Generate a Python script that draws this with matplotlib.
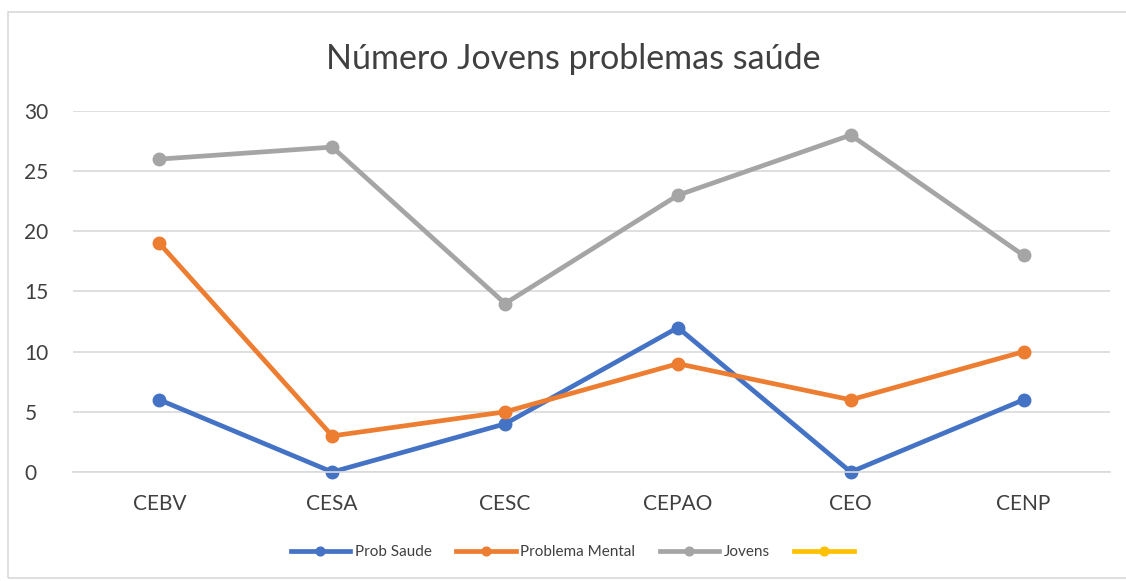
import matplotlib.pyplot as plt
from matplotlib.patches import Rectangle

categorias = ["CEBV", "CESA", "CESC", "CEPAO", "CEO", "CENP"]
prob_saude = [6, 0, 4, 12, 0, 6]
problema_mental = [19, 3, 5, 9, 6, 10]
jovens = [26, 27, 14, 23, 28, 18]

plt.rcParams['font.family'] = ['Lato', 'DejaVu Sans']

fig = plt.figure(figsize=(11.26, 5.81), dpi=100)
ax = fig.add_axes([0.0648, 0.1876, 0.9210, 0.6214])

# moldura da area do grafico
fig.patches.append(Rectangle((8/1126, 3/581), 1.2, 566/581, transform=fig.transFigure,
                             fill=False, edgecolor='#d9d9d9', linewidth=1.2))

x = range(len(categorias))
ax.plot(x, prob_saude, color='#4472c4', lw=3.4, marker='o', ms=9, label='Prob Saude', clip_on=False)
ax.plot(x, problema_mental, color='#ed7d31', lw=3.4, marker='o', ms=9, label='Problema Mental', clip_on=False)
ax.plot(x, jovens, color='#a5a5a5', lw=3.4, marker='o', ms=9, label='Jovens', clip_on=False)
ax.plot([], [], color='#ffc000', lw=3.4, marker='o', ms=9, label=' ')

ax.set_xlim(-0.5, len(categorias) - 0.5)
ax.set_ylim(0, 30)
ax.set_yticks(range(0, 31, 5))
ax.set_xticks(list(x))
ax.set_xticklabels(categorias)
ax.grid(axis='y', color='#d9d9d9', lw=1.2)
ax.set_axisbelow(True)
for s in ax.spines.values():
    s.set_visible(False)
ax.spines['bottom'].set_visible(True)
ax.spines['bottom'].set_color('#d9d9d9')
ax.spines['bottom'].set_linewidth(1.2)
ax.tick_params(length=0, labelsize=15, colors='#404040', pad=16)
ax.tick_params(axis='y', pad=35)
for lab in ax.get_yticklabels():
    lab.set_horizontalalignment('left')

fig.text(0.509, 0.898, "Número Jovens problemas saúde", ha='center', va='center',
         fontsize=24.5, color='#404040')

# legenda com marcadores menores
leg = fig.legend(loc='center', bbox_to_anchor=(0.512, 0.05), ncol=4, frameon=False,
                 fontsize=11, handlelength=3.9, columnspacing=1.6, handletextpad=0.3,
                 labelcolor='#404040', markerscale=0.7)

fig.savefig('out.png', dpi=100)
